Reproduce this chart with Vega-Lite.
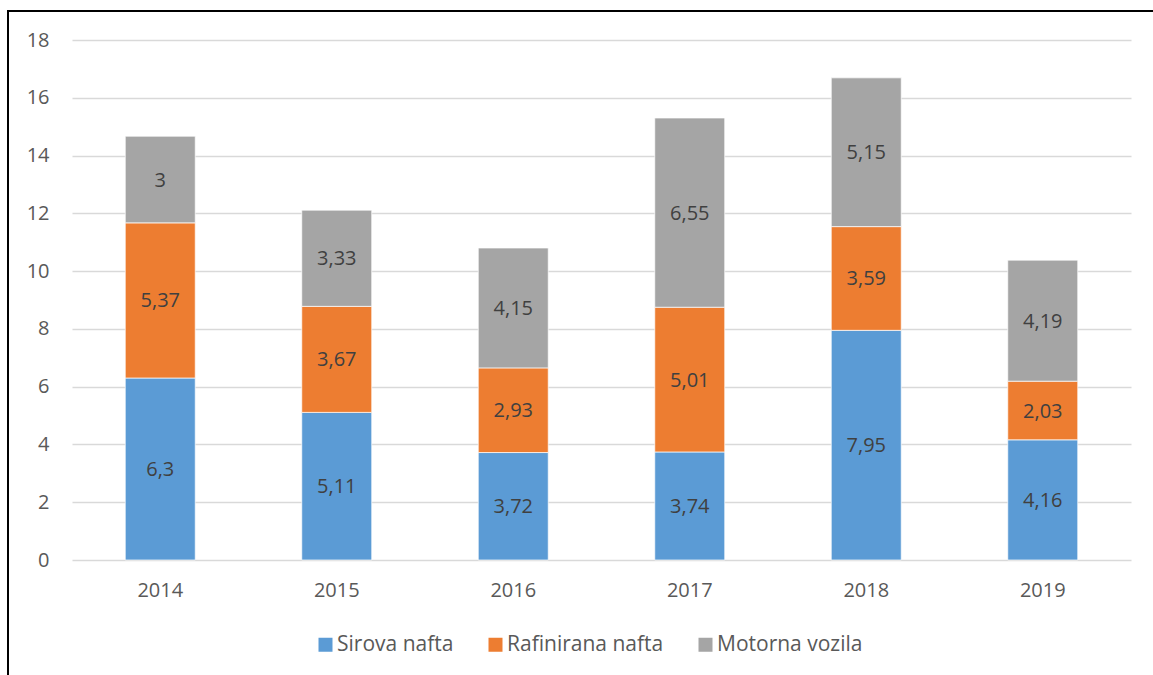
{
  "$schema": "https://vega.github.io/schema/vega-lite/v6.json",
  "width": 1149,
  "height": 668,
  "autosize": {"type": "none"},
  "padding": {"left": 8, "top": 11, "right": -4, "bottom": -4},
  "background": "#ffffff",
  "data": {
    "values": [
      {"year": "2014", "series": "Sirova nafta", "value": 6.3},
      {"year": "2014", "series": "Rafinirana nafta", "value": 5.37},
      {"year": "2014", "series": "Motorna vozila", "value": 3},
      {"year": "2015", "series": "Sirova nafta", "value": 5.11},
      {"year": "2015", "series": "Rafinirana nafta", "value": 3.67},
      {"year": "2015", "series": "Motorna vozila", "value": 3.33},
      {"year": "2016", "series": "Sirova nafta", "value": 3.72},
      {"year": "2016", "series": "Rafinirana nafta", "value": 2.93},
      {"year": "2016", "series": "Motorna vozila", "value": 4.15},
      {"year": "2017", "series": "Sirova nafta", "value": 3.74},
      {"year": "2017", "series": "Rafinirana nafta", "value": 5.01},
      {"year": "2017", "series": "Motorna vozila", "value": 6.55},
      {"year": "2018", "series": "Sirova nafta", "value": 7.95},
      {"year": "2018", "series": "Rafinirana nafta", "value": 3.59},
      {"year": "2018", "series": "Motorna vozila", "value": 5.15},
      {"year": "2019", "series": "Sirova nafta", "value": 4.16},
      {"year": "2019", "series": "Rafinirana nafta", "value": 2.03},
      {"year": "2019", "series": "Motorna vozila", "value": 4.19}
    ]
  },
  "encoding": {
    "x": {
      "field": "year",
      "type": "nominal",
      "title": null,
      "scale": {"range": [64, 1123], "paddingInner": 0.6034, "paddingOuter": 0.3017},
      "axis": {
        "orient": "bottom",
        "offset": -119,
        "labelAngle": 0,
        "domain": false,
        "ticks": false,
        "labelPadding": 20,
        "labelFont": "Open Sans",
        "labelFontSize": 20,
        "labelColor": "#595959"
      }
    },
    "y": {
      "field": "value",
      "type": "quantitative",
      "stack": "zero",
      "title": null,
      "scale": {"domain": [0, 18], "range": [549, 29], "nice": false, "zero": true},
      "axis": {
        "orient": "left",
        "offset": -64,
        "values": [0, 2, 4, 6, 8, 10, 12, 14, 16, 18],
        "domain": false,
        "ticks": false,
        "labelPadding": 23,
        "labelFont": "Open Sans",
        "labelFontSize": 20,
        "labelColor": "#595959",
        "grid": true,
        "gridColor": "#d9d9d9",
        "gridWidth": 1.3
      }
    },
    "order": {"field": "series", "type": "nominal", "sort": "descending"}
  },
  "layer": [
    {
      "mark": {"type": "bar", "stroke": "#ffffff", "strokeWidth": 0.7},
      "encoding": {
        "color": {
          "field": "series",
          "type": "nominal",
          "title": null,
          "scale": {
            "domain": ["Sirova nafta", "Rafinirana nafta", "Motorna vozila"],
            "range": ["#5b9bd5", "#ed7d31", "#a5a5a5"]
          },
          "legend": {
            "orient": "none",
            "direction": "horizontal",
            "legendX": 307,
            "legendY": 623,
            "symbolType": "square",
            "symbolSize": 196,
            "symbolStrokeWidth": 0,
            "labelOffset": 1,
            "columnPadding": 31,
            "labelFont": "Open Sans",
            "labelFontSize": 21,
            "labelColor": "#595959",
            "padding": 0
          }
        }
      }
    },
    {
      "mark": {"type": "text", "font": "Open Sans", "fontSize": 20, "color": "#404040", "align": "center", "baseline": "middle", "dy": 1},
      "encoding": {
        "y": {"field": "value", "type": "quantitative", "stack": "zero", "bandPosition": 0.5},
        "text": {"field": "value", "type": "quantitative", "format": "~g"}
      }
    }
  ],
  "config": {
    "locale": {"number": {"decimal": ",", "thousands": ".", "grouping": [3], "currency": ["", ""]}},
    "view": {"stroke": "#000000", "strokeWidth": 2}
  }
}
